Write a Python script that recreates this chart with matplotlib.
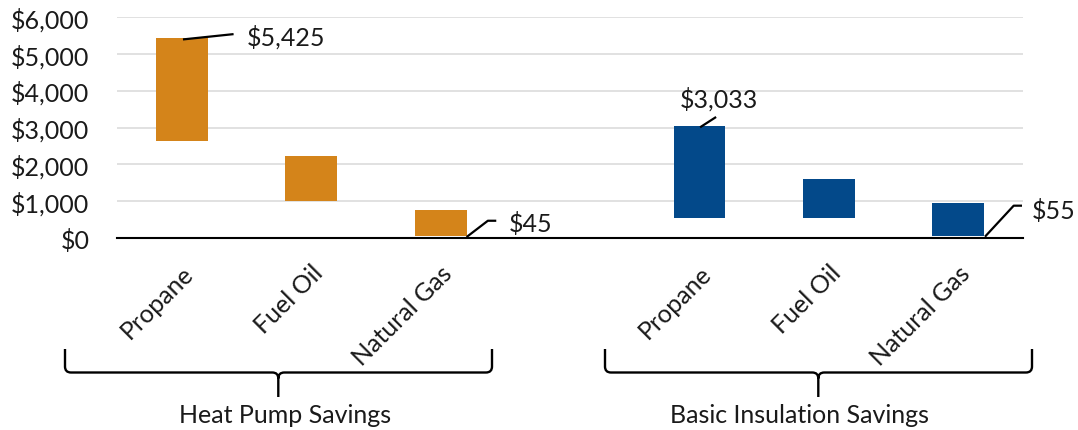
import matplotlib
matplotlib.use("Agg")
import matplotlib.pyplot as plt
import numpy as np
from matplotlib.path import Path
from matplotlib.patches import PathPatch
from matplotlib.transforms import offset_copy
from matplotlib.ticker import FuncFormatter

plt.rcParams['font.family'] = ['Lato', 'DejaVu Sans']

# data
categories = ["Propane", "Fuel Oil", "Natural Gas"]
groups = ["Heat Pump Savings", "Basic Insulation Savings"]
hp_low = [2630, 1000, 45]
hp_high = [5425, 2235, 755]
ins_low = [530, 530, 55]
ins_high = [3033, 1600, 950]
yticks = [0, 1000, 2000, 3000, 4000, 5000, 6000]

ORANGE = "#D4841A"
BLUE = "#03498A"
TXT = "#1a1a1a"
FS = 18
W, H = 1078, 431

fig = plt.figure(figsize=(W / 100, H / 100), dpi=100)
ax = fig.add_axes([117.3 / W, (H - 238.7) / H, 905.5 / W, 220.4 / H])

# slot 3 is left empty between the two groups
hp_x = np.arange(3)
ins_x = np.arange(3) + 4
bar_w = 0.4

ax.bar(hp_x, np.array(hp_high) - np.array(hp_low), bottom=hp_low,
       width=bar_w, color=ORANGE, zorder=3)
ax.bar(ins_x, np.array(ins_high) - np.array(ins_low), bottom=ins_low,
       width=bar_w, color=BLUE, zorder=3)

ax.set_xlim(-0.5, 6.5)
ax.set_ylim(0, 6000)
ax.set_yticks(yticks)
ax.yaxis.set_major_formatter(FuncFormatter(lambda v, p: "${:,.0f}".format(v)))
ax.tick_params(axis='y', length=0, pad=20, labelsize=FS, colors=TXT)
ax.grid(axis='y', color='#d9d9d9', lw=1.1, zorder=0)
ax.set_axisbelow(True)
for s in ['top', 'right', 'left']:
    ax.spines[s].set_visible(False)
ax.spines['bottom'].set_color('black')
ax.spines['bottom'].set_linewidth(1.5)
ax.spines['bottom'].set_zorder(4)
ax.set_xticks([])

# rotated category labels
lab_tr = offset_copy(ax.get_xaxis_transform(), fig=fig, x=8, y=-31, units='dots')
for xs in (hp_x, ins_x):
    for x, name in zip(xs, categories):
        ax.text(x, 0, name, transform=lab_tr, rotation=45, rotation_mode='anchor',
                ha='right', va='center', fontsize=FS, color=TXT)


def px_to_data(x, y, dx, dy):
    p = ax.transData.transform((x, y)) + np.array([dx, dy])
    return ax.transData.inverted().transform(p)


def leader(x, y, offsets, text, toff, ha='left'):
    pts = np.array([px_to_data(x, y, dx, dy) for dx, dy in offsets])
    ax.plot(pts[:, 0], pts[:, 1], color='black', lw=1.6, zorder=5,
            solid_capstyle='butt', clip_on=False)
    ax.annotate(text, (x, y), xytext=toff, textcoords='offset pixels',
                ha=ha, va='center', fontsize=FS, color=TXT)


leader(hp_x[0], hp_high[0], [(1, -1), (51.6, 4.3)], "$5,425", (65, 2))
leader(hp_x[2] + bar_w / 2, hp_low[2], [(0, -1), (21.3, 15.3), (29.7, 15.3)],
       "$45", (42, 13))
leader(ins_x[0], ins_high[0], [(0.7, -1), (16.7, 9.3)], "$3,033", (19.4, 28.3),
       ha='center')
leader(ins_x[2] + bar_w / 2, ins_low[2], [(1, -1), (29.7, 30), (38, 30)],
       "$55", (48, 25.7))


# group braces drawn in figure pixels
def brace(x0, x1, xm, y_top=350, y_bar=373.5, y_tip=398, r=6):
    verts = [(x0, y_top), (x0, y_bar - r), (x0, y_bar), (x0 + r, y_bar),
             (xm - r, y_bar), (xm, y_bar), (xm, y_bar + r), (xm, y_tip),
             (xm, y_bar + r), (xm, y_bar), (xm + r, y_bar),
             (x1 - r, y_bar), (x1, y_bar), (x1, y_bar - r), (x1, y_top)]
    codes = [Path.MOVETO, Path.LINETO, Path.CURVE3, Path.CURVE3,
             Path.LINETO, Path.CURVE3, Path.CURVE3, Path.LINETO,
             Path.MOVETO, Path.CURVE3, Path.CURVE3,
             Path.LINETO, Path.CURVE3, Path.CURVE3, Path.LINETO]
    verts = [(vx / W, (H - vy) / H) for vx, vy in verts]
    fig.add_artist(PathPatch(Path(verts, codes), fill=False, lw=1.7,
                             color='black', transform=fig.transFigure))


brace(65, 492, 278.3)
brace(605, 1032, 818.3)
fig.text(285 / W, (H - 415.5) / H, groups[0], ha='center', va='center',
         fontsize=FS, color=TXT)
fig.text(800 / W, (H - 415.5) / H, groups[1], ha='center', va='center',
         fontsize=FS, color=TXT)

fig.savefig("out.png", dpi=100)
